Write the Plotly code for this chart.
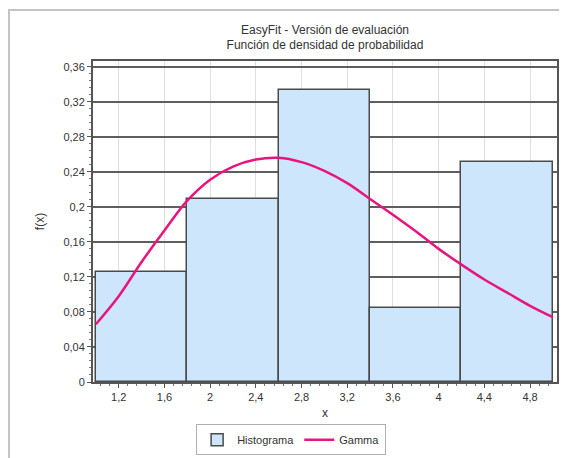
import plotly.graph_objects as go

# Histogram data
bin_edges = [1.0, 1.8, 2.6, 3.4, 4.2, 5.0]
hist_density = [0.126, 0.209, 0.333, 0.084, 0.251]

# Gamma density curve
gamma_x = [1.0, 1.2, 1.4, 1.6, 1.8, 2.0, 2.2, 2.4, 2.6, 2.8, 3.0, 3.2, 3.4,
           3.6, 3.8, 4.0, 4.2, 4.4, 4.6, 4.8, 5.0]
gamma_y = [0.066, 0.098, 0.137, 0.173, 0.207, 0.231, 0.246, 0.254, 0.256, 0.251,
           0.241, 0.227, 0.209, 0.191, 0.172, 0.152, 0.134, 0.117, 0.102, 0.087, 0.074]

x_tickvals = [1.2, 1.6, 2.0, 2.4, 2.8, 3.2, 3.6, 4.0, 4.4, 4.8]
x_ticktext = ["1,2", "1,6", "2", "2,4", "2,8", "3,2", "3,6", "4", "4,4", "4,8"]
y_tickvals = [0, 0.04, 0.08, 0.12, 0.16, 0.2, 0.24, 0.28, 0.32, 0.36]
y_ticktext = ["0", "0,04", "0,08", "0,12", "0,16", "0,2", "0,24", "0,28", "0,32", "0,36"]

centers = [(a + b) / 2 for a, b in zip(bin_edges[:-1], bin_edges[1:])]
widths = [b - a for a, b in zip(bin_edges[:-1], bin_edges[1:])]

fig = go.Figure()
fig.add_trace(go.Bar(
    x=centers, y=hist_density, width=widths, name="Histograma",
    marker=dict(color="#cde6fc", line=dict(color="#4a4a4a", width=1.5)),
))
fig.add_trace(go.Scatter(
    x=gamma_x, y=gamma_y, mode="lines", name="Gamma",
    line=dict(color="#e8147f", width=2.5, shape="spline"),
))

font = "Liberation Sans, Arial, sans-serif"
fig.update_layout(
    width=559, height=450,
    margin=dict(l=85, r=10, t=53, b=76, autoexpand=False),
    paper_bgcolor="white", plot_bgcolor="white",
    font=dict(family=font, size=11, color="#333333"),
    title=dict(
        text="EasyFit - Versión de evaluación<br>Función de densidad de probabilidad",
        x=0.5, xref="paper", y=0.943, yanchor="top",
        font=dict(size=12, color="#333333"),
    ),
    bargap=0,
    showlegend=True,
    legend=dict(
        orientation="h", x=0.427, xanchor="center", y=-0.18, yanchor="middle",
        bordercolor="#b0b0b0", borderwidth=1, bgcolor="white",
        font=dict(size=11, color="#333333"),
        itemwidth=30, tracegroupgap=0,
    ),
    xaxis=dict(
        range=[0.975, 5.036],
        tickvals=x_tickvals, ticktext=x_ticktext,
        showgrid=True, gridcolor="#dedede", gridwidth=1,
        showline=True, linecolor="#555555", linewidth=2, mirror=True,
        ticks="outside", ticklen=4, tickcolor="#555555",
        minor=dict(dtick=0.08, tick0=1.2, ticks="outside", ticklen=2, tickcolor="#777777", showgrid=False),
        zeroline=False,
        title=dict(text="x", font=dict(size=12), standoff=6),
    ),
    yaxis=dict(
        range=[0, 0.3665],
        tickvals=y_tickvals, ticktext=y_ticktext,
        showgrid=True, gridcolor="#5e5e5e", gridwidth=1.5,
        showline=True, linecolor="#555555", linewidth=2, mirror=True,
        ticks="outside", ticklen=4, tickcolor="#555555",
        minor=dict(dtick=0.008, tick0=0, ticks="outside", ticklen=2, tickcolor="#777777", showgrid=False),
        zeroline=False,
        title=dict(text="f(x)", font=dict(size=12), standoff=16),
    ),
)

# outer frame (left and top edges visible)
fig.add_shape(type="rect", xref="paper", yref="paper",
              x0=-0.181, x1=1.2, y0=-0.5, y1=1.159,
              line=dict(color="#c4c4c4", width=2), fillcolor="rgba(0,0,0,0)", layer="below")

fig.write_html("out.html")
